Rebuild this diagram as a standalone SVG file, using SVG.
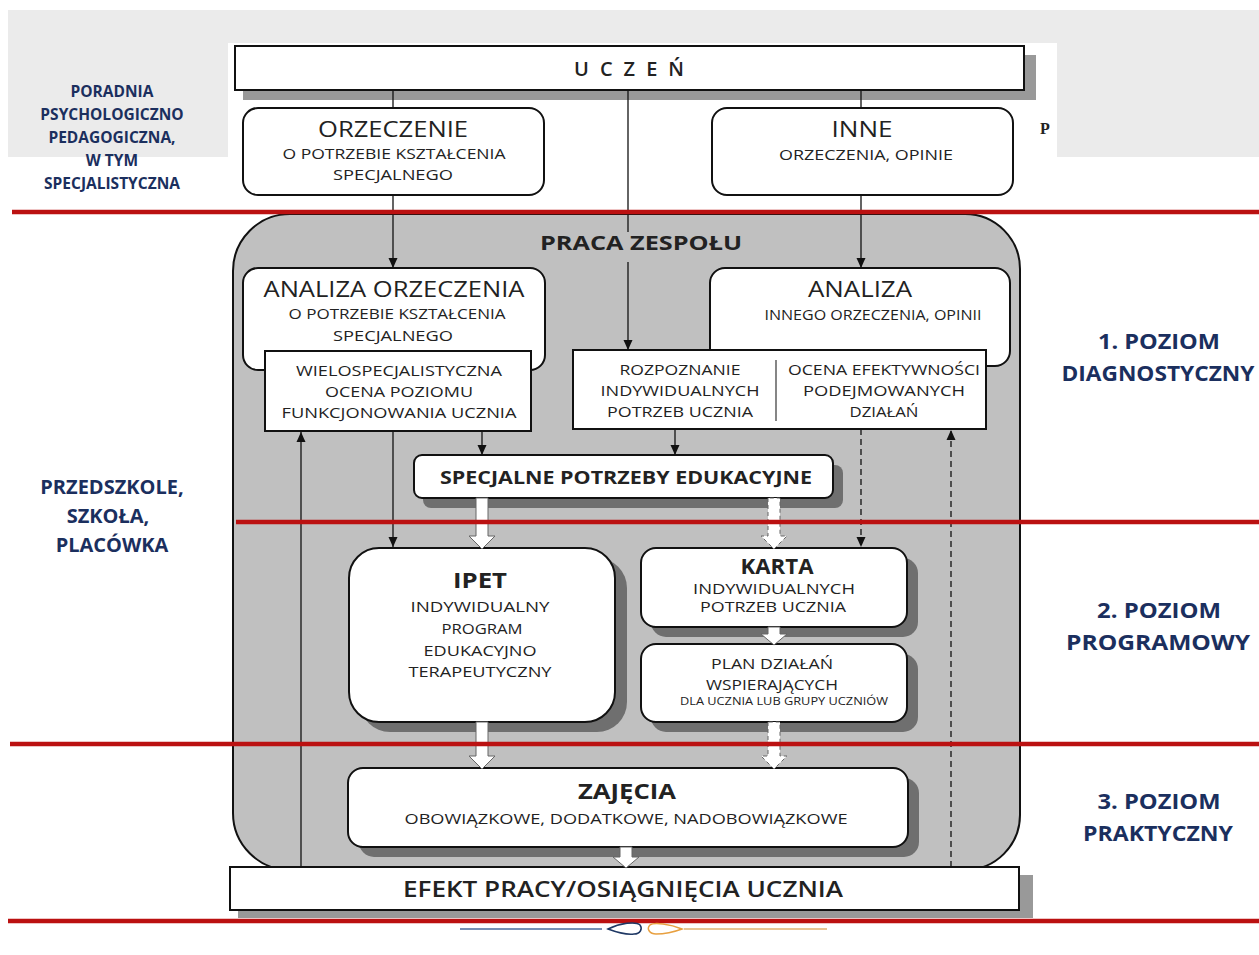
<svg xmlns="http://www.w3.org/2000/svg" width="1259" height="955" viewBox="0 0 1259 955">
<defs>
<style>
.t{font-family:'Open Sans','Liberation Sans',sans-serif;fill:#222;text-anchor:middle}
.s{font-size:15px}
.h{font-size:22px}
.b{font-weight:bold}
.lab{font-family:'Open Sans','Liberation Sans',sans-serif;font-weight:bold;fill:#1b2f5e;text-anchor:middle}
.box{fill:#fff;stroke:#111;stroke-width:2}
.sh{fill:#6f6f6f}
.ln{stroke:#111;stroke-width:1.3;fill:none}
.dash{stroke-dasharray:6 4}
.red{stroke:#bb1111;stroke-width:4.5}
.blk{fill:#fff;stroke:#666;stroke-width:1}
.blkd{fill:#fff;stroke:#666;stroke-width:1;stroke-dasharray:4 3}
</style>
<marker id="ah" markerUnits="userSpaceOnUse" markerWidth="10" markerHeight="10" refX="10" refY="5" orient="auto">
<path d="M0,0.5 L10,5 L0,9.5 z" fill="#111"/>
</marker>
</defs>

<rect x="0" y="0" width="1259" height="955" fill="#fff"/>
<g id="background-band">
<rect x="8" y="10" width="1251" height="147" fill="#ebebeb"/>
<rect x="228" y="43" width="829" height="168" fill="#fff"/>
</g>

<!-- left & right labels -->
<g id="label-poradnia">
<text class="lab" font-size="15.5" x="112" y="97">PORADNIA</text>
<text class="lab" font-size="15.5" x="112" y="120">PSYCHOLOGICZNO</text>
<text class="lab" font-size="15.5" x="112" y="143">PEDAGOGICZNA,</text>
<text class="lab" font-size="15.5" x="112" y="166">W TYM</text>
<text class="lab" font-size="15.5" x="112" y="189">SPECJALISTYCZNA</text>
</g>
<g id="label-p"><text x="1040" y="134" font-family="'Liberation Serif',serif" font-weight="bold" font-size="16" fill="#222">P</text></g>
<g id="label-przedszkole">
<text class="lab" font-size="20" x="112" y="494">PRZEDSZKOLE,</text>
<text class="lab" font-size="20" x="108" y="523">SZKOŁA,</text>
<text class="lab" font-size="20" x="112" y="552">PLACÓWKA</text>
</g>
<g id="label-poziom1">
<text class="lab" font-size="22" x="1159" y="349" textLength="122" lengthAdjust="spacingAndGlyphs">1. POZIOM</text>
<text class="lab" font-size="22" x="1158" y="381" textLength="193" lengthAdjust="spacingAndGlyphs">DIAGNOSTYCZNY</text>
</g>
<g id="label-poziom2">
<text class="lab" font-size="22" x="1159" y="618" textLength="124" lengthAdjust="spacingAndGlyphs">2. POZIOM</text>
<text class="lab" font-size="22" x="1158" y="650" textLength="184" lengthAdjust="spacingAndGlyphs">PROGRAMOWY</text>
</g>
<g id="label-poziom3">
<text class="lab" font-size="22" x="1159" y="809" textLength="123" lengthAdjust="spacingAndGlyphs">3. POZIOM</text>
<text class="lab" font-size="22" x="1158" y="841" textLength="150" lengthAdjust="spacingAndGlyphs">PRAKTYCZNY</text>
</g>

<!-- UCZEN -->
<g id="uczen">
<rect x="243" y="55" width="793" height="45" fill="#999"/>
<rect x="235" y="46" width="789" height="44" class="box"/>
<text class="t" font-size="20" font-weight="600" x="629" y="76" textLength="110">U C Z E Ń</text>
</g>

<!-- top boxes -->
<g id="orzeczenie">
<rect x="243" y="108" width="301" height="87" rx="15" class="box"/>
<text class="t h" x="393" y="137" textLength="150" lengthAdjust="spacingAndGlyphs">ORZECZENIE</text>
<text class="t s" x="394" y="159" textLength="223" lengthAdjust="spacingAndGlyphs">O POTRZEBIE KSZTAŁCENIA</text>
<text class="t s" x="393" y="180" textLength="120" lengthAdjust="spacingAndGlyphs">SPECJALNEGO</text>
</g>
<g id="inne">
<rect x="712" y="108" width="301" height="87" rx="15" class="box"/>
<text class="t h" x="862" y="137" textLength="61" lengthAdjust="spacingAndGlyphs">INNE</text>
<text class="t s" x="866" y="160" textLength="174" lengthAdjust="spacingAndGlyphs">ORZECZENIA, OPINIE</text>
</g>

<!-- container -->
<g id="praca-zespolu">
<path d="M290 214 H965 A55 55 0 0 1 1020 269 V815 A55 55 0 0 1 965 870 H290 A57 57 0 0 1 233 813 V271 A57 57 0 0 1 290 214 Z" fill="#c0c0c0" stroke="#111" stroke-width="2"/>
<text class="t b" font-size="20" x="641" y="250" textLength="202" lengthAdjust="spacingAndGlyphs">PRACA ZESPOŁU</text>
</g>

<g id="analiza-orzeczenia">
<rect x="243" y="268" width="302" height="102" rx="15" class="box"/>
<text class="t h" x="394" y="297" textLength="261" lengthAdjust="spacingAndGlyphs">ANALIZA ORZECZENIA</text>
<text class="t s" x="397" y="319" textLength="217" lengthAdjust="spacingAndGlyphs">O POTRZEBIE KSZTAŁCENIA</text>
<text class="t s" x="393" y="341" textLength="120" lengthAdjust="spacingAndGlyphs">SPECJALNEGO</text>
</g>
<g id="analiza-inne">
<rect x="710" y="268" width="300" height="98" rx="15" class="box"/>
<text class="t h" x="860" y="297" textLength="104" lengthAdjust="spacingAndGlyphs">ANALIZA</text>
<text class="t s" x="873" y="320" textLength="217" lengthAdjust="spacingAndGlyphs">INNEGO ORZECZENIA, OPINII</text>
</g>

<g id="ocena-poziomu">
<rect x="265" y="351" width="266" height="80" class="box" stroke-width="1.6"/>
<text class="t s" x="399" y="376" textLength="206" lengthAdjust="spacingAndGlyphs">WIELOSPECJALISTYCZNA</text>
<text class="t s" x="399" y="397" textLength="148" lengthAdjust="spacingAndGlyphs">OCENA POZIOMU</text>
<text class="t s" x="399" y="418" textLength="235" lengthAdjust="spacingAndGlyphs">FUNKCJONOWANIA UCZNIA</text>
</g>
<g id="rozpoznanie">
<rect x="573" y="350" width="413" height="79" class="box" stroke-width="1.6"/>
<line x1="776" y1="360" x2="776" y2="421" stroke="#444" stroke-width="1.3"/>
<text class="t s" x="680" y="375" textLength="121" lengthAdjust="spacingAndGlyphs">ROZPOZNANIE</text>
<text class="t s" x="680" y="396" textLength="159" lengthAdjust="spacingAndGlyphs">INDYWIDUALNYCH</text>
<text class="t s" x="680" y="417" textLength="146" lengthAdjust="spacingAndGlyphs">POTRZEB UCZNIA</text>
<text class="t s" x="884" y="375" textLength="192" lengthAdjust="spacingAndGlyphs">OCENA EFEKTYWNOŚCI</text>
<text class="t s" x="884" y="396" textLength="162" lengthAdjust="spacingAndGlyphs">PODEJMOWANYCH</text>
<text class="t s" x="884" y="417" textLength="69" lengthAdjust="spacingAndGlyphs">DZIAŁAŃ</text>
</g>

<g id="specjalne-potrzeby">
<rect x="423" y="465" width="420" height="43" rx="8" class="sh"/>
<rect x="414" y="455" width="419" height="43" rx="8" class="box"/>
<text class="t b" font-size="18" x="626" y="484" textLength="372" lengthAdjust="spacingAndGlyphs">SPECJALNE POTRZEBY EDUKACYJNE</text>
</g>

<g id="ipet">
<rect x="360" y="558" width="267" height="174" rx="30" class="sh"/>
<rect x="349" y="548" width="266" height="174" rx="30" class="box"/>
<text class="t b" font-size="22" x="480" y="588" textLength="54" lengthAdjust="spacingAndGlyphs">IPET</text>
<text class="t s" x="480" y="612" textLength="139" lengthAdjust="spacingAndGlyphs">INDYWIDUALNY</text>
<text class="t s" x="482" y="634" textLength="81" lengthAdjust="spacingAndGlyphs">PROGRAM</text>
<text class="t s" x="480" y="656" textLength="113" lengthAdjust="spacingAndGlyphs">EDUKACYJNO</text>
<text class="t s" x="480" y="677" textLength="143" lengthAdjust="spacingAndGlyphs">TERAPEUTYCZNY</text>
</g>

<g id="karta">
<rect x="651" y="558" width="267" height="79" rx="15" class="sh"/>
<rect x="641" y="548" width="266" height="79" rx="15" class="box"/>
<text class="t b" font-size="22" x="777" y="574" textLength="73" lengthAdjust="spacingAndGlyphs">KARTA</text>
<text class="t s" x="774" y="594" textLength="162" lengthAdjust="spacingAndGlyphs">INDYWIDUALNYCH</text>
<text class="t s" x="773" y="612" textLength="146" lengthAdjust="spacingAndGlyphs">POTRZEB UCZNIA</text>
</g>

<g id="plan-dzialan">
<rect x="651" y="654" width="267" height="78" rx="15" class="sh"/>
<rect x="641" y="644" width="266" height="78" rx="15" class="box"/>
<text class="t s" x="772" y="669" textLength="122" lengthAdjust="spacingAndGlyphs">PLAN DZIAŁAŃ</text>
<text class="t s" x="772" y="690" textLength="132" lengthAdjust="spacingAndGlyphs">WSPIERAJĄCYCH</text>
<text class="t" font-size="10.5" x="784" y="705" textLength="208" lengthAdjust="spacingAndGlyphs">DLA UCZNIA LUB GRUPY UCZNIÓW</text>
</g>

<g id="zajecia">
<rect x="359" y="778" width="560" height="79" rx="15" class="sh"/>
<rect x="348" y="768" width="560" height="79" rx="15" class="box"/>
<text class="t b" font-size="22" x="627" y="799" textLength="98" lengthAdjust="spacingAndGlyphs">ZAJĘCIA</text>
<text class="t s" x="626" y="824" textLength="443" lengthAdjust="spacingAndGlyphs">OBOWIĄZKOWE, DODATKOWE, NADOBOWIĄZKOWE</text>
</g>

<g id="efekt">
<rect x="238" y="875" width="795" height="43" fill="#999"/>
<rect x="230" y="867" width="789" height="43" class="box"/>
<text class="t" font-size="22" font-weight="600" x="623" y="897" textLength="440" lengthAdjust="spacingAndGlyphs">EFEKT PRACY/OSIĄGNIĘCIA UCZNIA</text>
</g>

<!-- connectors -->
<g id="connectors">
<line class="ln" x1="393" y1="90" x2="393" y2="108"/>
<line class="ln" x1="861" y1="90" x2="861" y2="108"/>
<line class="ln" x1="393" y1="195" x2="393" y2="268" marker-end="url(#ah)"/>
<line class="ln" x1="861" y1="195" x2="861" y2="268" marker-end="url(#ah)"/>
<line class="ln" x1="628" y1="90" x2="628" y2="232"/>
<line class="ln" x1="628" y1="262" x2="628" y2="350" marker-end="url(#ah)"/>
<line class="ln" x1="482" y1="431" x2="482" y2="455" marker-end="url(#ah)"/>
<line class="ln" x1="675" y1="429" x2="675" y2="455" marker-end="url(#ah)"/>
<line class="ln" x1="393" y1="431" x2="393" y2="547" marker-end="url(#ah)"/>
<line class="ln dash" x1="861" y1="429" x2="861" y2="547" marker-end="url(#ah)"/>
<line class="ln" x1="301" y1="867" x2="301" y2="432" marker-end="url(#ah)"/>
<line class="ln dash" x1="951" y1="867" x2="951" y2="430" marker-end="url(#ah)"/>
<path class="blk" d="M476 498 V536 H469 L482 549 L495 536 H488 V498 Z"/>
<path class="blkd" d="M768 498 V536 H761 L774 549 L787 536 H780 V498 Z"/>
<path class="blk" d="M768 627 V634 H761 L774 645 L787 634 H780 V627 Z"/>
<path class="blk" d="M476 722 V756 H469 L482 769 L495 756 H488 V722 Z"/>
<path class="blkd" d="M768 722 V756 H761 L774 769 L787 756 H780 V722 Z"/>
<path class="blk" d="M620 847 V857 H613 L626 868 L639 857 H632 V847 Z"/>
</g>

<!-- red level lines -->
<g id="level-lines">
<line class="red" x1="12" y1="212" x2="1259" y2="212"/>
<line class="red" x1="236" y1="522" x2="1259" y2="522"/>
<line class="red" x1="10" y1="744" x2="1259" y2="744"/>
<line class="red" x1="8" y1="921" x2="1259" y2="921"/>
</g>

<!-- footer logo -->
<g id="footer-logo">
<line x1="460" y1="929" x2="602" y2="929" stroke="#4a6a9a" stroke-width="1.5"/>
<path d="M608 929 C620 923 636 921 640 925 C643 929 640 934 634 934 C626 935 616 932 608 929 Z" fill="none" stroke="#1f3864" stroke-width="1.5"/>
<path d="M682 929 C670 924 654 922 650 925 C646 929 650 934 656 934 C664 934 674 932 682 929 Z" fill="none" stroke="#e8a040" stroke-width="1.5"/>
<line x1="684" y1="929" x2="827" y2="929" stroke="#e0b070" stroke-width="1.5"/>
</g>
</svg>
